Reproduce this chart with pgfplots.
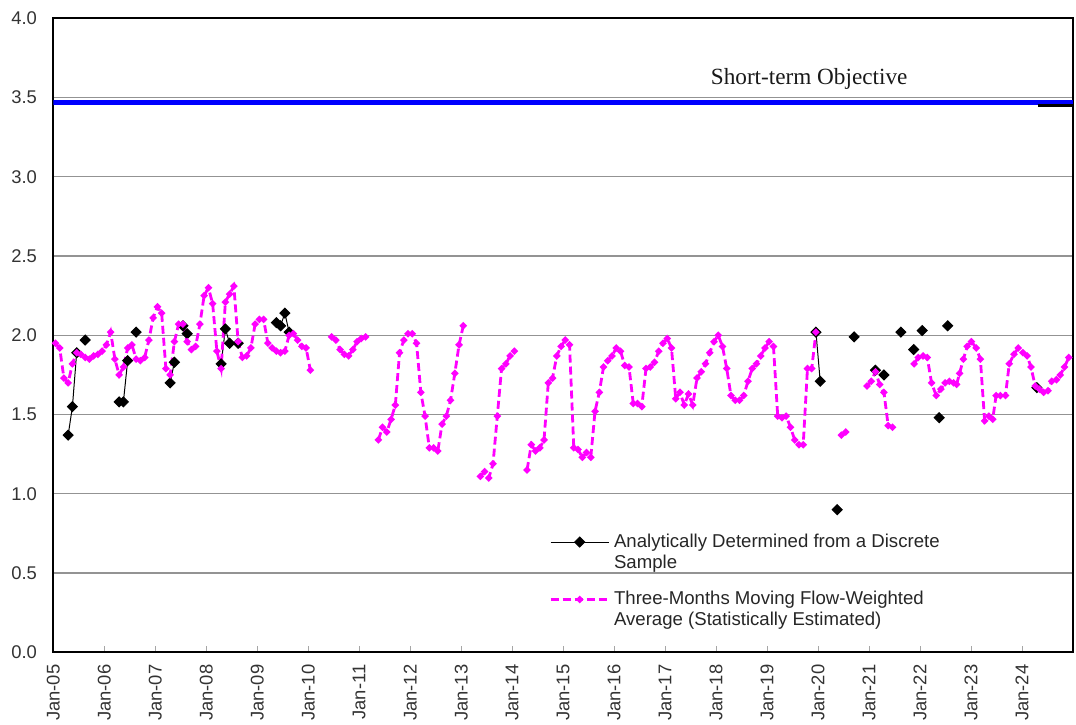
\documentclass[border=0pt]{standalone}
\usepackage{fontspec}
\setmainfont{Liberation Sans}
\newfontfamily\timesfont{Liberation Serif}
\usepackage{pgfplots}
\pgfplotsset{compat=1.18}
\definecolor{mag}{RGB}{255,0,255}
\definecolor{objblue}{RGB}{0,0,255}
% legend sample sits on the first text line
\pgfplotsset{long legend/.style={legend image code/.code={%
  \draw[mark repeat=2,mark phase=2,##1] plot coordinates {(0pt,5.2pt) (14.5pt,5.2pt) (29pt,5.2pt)};}}}

\begin{document}
\begin{tikzpicture}
\path[use as bounding box] (0,0) rectangle (538pt,362pt);
\begin{axis}[
  at={(26.65pt,35.85pt)}, anchor=south west,
  scale only axis, width=509.85pt, height=317pt,
  xmin=0, xmax=240, ymin=0, ymax=4,
  xtick={0,12,...,228},
  xticklabels={Jan-05,Jan-06,Jan-07,Jan-08,Jan-09,Jan-10,Jan-11,Jan-12,Jan-13,Jan-14,
               Jan-15,Jan-16,Jan-17,Jan-18,Jan-19,Jan-20,Jan-21,Jan-22,Jan-23,Jan-24},
  ytick={0,0.5,...,4},
  yticklabel style={/pgf/number format/fixed, /pgf/number format/fixed zerofill,
    /pgf/number format/precision=1, /pgf/number format/assume math mode=true,
    inner sep=0pt, xshift=-8pt},
  tick label style={font=\fontsize{9.2}{11}\selectfont, text=black!80},
  x tick label style={rotate=90, anchor=east, inner sep=0pt},
  xticklabel shift=6pt,
  xtick pos=bottom, tick align=inside, major tick length=3pt,
  xtick style={draw=gray!70, line width=0.5pt},
  ytick style={draw=none},
  ymajorgrids, grid style={draw=gray!85, line width=0.6pt},
  axis line style={line width=1pt},
  unbounded coords=jump,
  legend style={at={(0.486,0.194)}, anchor=north west, draw=none, fill=none,
    inner sep=0pt, row sep=6pt, font=\fontsize{9.3}{10.5}\selectfont,
    cells={anchor=west, align=left, text=black!85}},
  legend cell align=left,
]
% short-term objective
\addplot[objblue, line width=2.7pt, forget plot] coordinates {(0,3.47) (240,3.47)};
\addplot[black, line width=1.5pt, forget plot] coordinates {(231.7,3.45) (240,3.45)};

% discrete samples
\addplot[black, line width=0.5pt, mark=square*, mark size=1.75pt,
  mark options={rotate=45}, long legend]
coordinates {
 (3.5,1.37) (4.5,1.55) (5.5,1.89) (6,nan)
 (7.5,1.97) (8,nan)
 (15.5,1.58) (16.5,1.58) (17.5,1.84) (18,nan)
 (19.5,2.02) (20,nan)
 (27.5,1.70) (28.5,1.83) (29,nan)
 (30.5,2.06) (31.5,2.01) (32,nan)
 (39.5,1.82) (40.5,2.04) (41.5,1.95) (42,nan)
 (43.5,1.95) (44,nan)
 (52.5,2.08) (53.5,2.06) (54.5,2.14) (55.5,2.02) (56,nan)
 (179.5,2.02) (180.5,1.71) (181,nan)
 (184.5,0.90) (185,nan)
 (188.5,1.99) (189,nan)
 (193.5,1.78) (194,nan)
 (195.5,1.75) (196,nan)
 (199.5,2.02) (200,nan)
 (202.5,1.91) (203,nan)
 (204.5,2.03) (205,nan)
 (208.5,1.48) (209,nan)
 (210.5,2.06) (211,nan)
 (231.5,1.67)
};
\addlegendentry{Analytically Determined from a Discrete\\Sample}

% three-month moving average
\addplot[mag, line width=1.4pt, dash pattern=on 4pt off 2pt, mark=*, mark size=0.95pt,
  mark options={solid}, long legend]
coordinates {
 (0.5,1.95) (1.5,1.92) (2.5,1.73) (3.5,1.70) (4.5,1.82) (5.5,1.89) (6.5,1.88) (7.5,1.86)
 (8.5,1.85) (9.5,1.87) (10.5,1.88) (11.5,1.90) (12.5,1.94) (13.5,2.02) (14.5,1.85) (15.5,1.75)
 (16.5,1.80) (17.5,1.92) (18.5,1.94) (19.5,1.85) (20.5,1.84) (21.5,1.86) (22.5,1.97) (23.5,2.11)
 (24.5,2.18) (25.5,2.14) (26.5,1.79) (27.5,1.75) (28.5,1.96) (29.5,2.07) (30.5,2.07) (31.5,1.96)
 (32.5,1.91) (33.5,1.93) (34.5,2.07) (35.5,2.25) (36.5,2.30) (37.5,2.20) (38.5,1.90) (39.5,1.79)
 (40.5,2.21) (41.5,2.26) (42.5,2.31) (43.5,1.96) (44.5,1.86) (45.5,1.87) (46.5,1.92) (47.5,2.07)
 (48.5,2.10) (49.5,2.10) (50.5,1.95) (51.5,1.92) (52.5,1.90) (53.5,1.89) (54.5,1.90) (55.5,2.00)
 (56.5,2.01) (57.5,1.97) (58.5,1.93) (59.5,1.92) (60.5,1.78) (61,nan)
 (65.5,1.99) (66.5,1.97) (67.5,1.91) (68.5,1.88) (69.5,1.87) (70.5,1.91) (71.5,1.96) (72.5,1.98)
 (73.5,1.99) (74,nan)
 (76.5,1.34) (77.5,1.42) (78.5,1.39) (79.5,1.47) (80.5,1.56) (81.5,1.89) (82.5,1.97) (83.5,2.01)
 (84.5,2.01) (85.5,1.95) (86.5,1.64) (87.5,1.49) (88.5,1.29) (89.5,1.29) (90.5,1.27) (91.5,1.44)
 (92.5,1.49) (93.5,1.59) (94.5,1.76) (95.5,1.94) (96.5,2.06) (97,nan)
 (100.5,1.11) (101.5,1.14) (102.5,1.10) (103.5,1.19) (104.5,1.49) (105.5,1.79) (106.5,1.82)
 (107.5,1.87) (108.5,1.90) (109,nan)
 (111.5,1.15) (112.5,1.31) (113.5,1.27) (114.5,1.29) (115.5,1.34) (116.5,1.70) (117.5,1.73)
 (118.5,1.87) (119.5,1.93) (120.5,1.97) (121.5,1.94) (122.5,1.29) (123.5,1.28) (124.5,1.23)
 (125.5,1.26) (126.5,1.23) (127.5,1.52) (128.5,1.64) (129.5,1.80) (130.5,1.84) (131.5,1.87)
 (132.5,1.92) (133.5,1.90) (134.5,1.81) (135.5,1.80) (136.5,1.57) (137.5,1.57) (138.5,1.55)
 (139.5,1.79) (140.5,1.80) (141.5,1.83) (142.5,1.90) (143.5,1.95) (144.5,1.98) (145.5,1.92)
 (146.5,1.60) (147.5,1.64) (148.5,1.56) (149.5,1.63) (150.5,1.56) (151.5,1.73) (152.5,1.77)
 (153.5,1.82) (154.5,1.89) (155.5,1.96) (156.5,2.00) (157.5,1.93) (158.5,1.79) (159.5,1.62)
 (160.5,1.59) (161.5,1.59) (162.5,1.62) (163.5,1.71) (164.5,1.79) (165.5,1.82) (166.5,1.87)
 (167.5,1.92) (168.5,1.96) (169.5,1.93) (170.5,1.49) (171.5,1.48) (172.5,1.49) (173.5,1.42)
 (174.5,1.34) (175.5,1.31) (176.5,1.31) (177.5,1.79) (178.5,1.79) (179.5,2.02) (180,nan)
 (185.5,1.37) (186.5,1.39) (187,nan)
 (191.5,1.68) (192.5,1.71) (193.5,1.77) (194.5,1.69) (195.5,1.64) (196.5,1.43) (197.5,1.42) (198,nan)
 (202.6,1.82) (203.6,1.86) (204.7,1.87) (205.7,1.86) (206.7,1.70) (207.8,1.62) (208.9,1.66)
 (209.9,1.70) (210.9,1.71) (211.9,1.70) (212.6,1.69) (213.3,1.76) (214.2,1.85) (215.1,1.93)
 (216.1,1.96) (217.2,1.92) (218.2,1.85) (219.2,1.46) (220.2,1.49) (221.1,1.47) (221.9,1.62)
 (222.9,1.62) (224.1,1.62) (225.0,1.82) (226.1,1.88) (227.1,1.92) (228.2,1.89) (229.2,1.87)
 (230.1,1.80) (231.1,1.68) (232.1,1.66) (233.1,1.64) (234.1,1.65) (235.0,1.71) (236.1,1.72)
 (237.0,1.75) (238.0,1.80) (239.0,1.86)
};
\addlegendentry{Three-Months Moving Flow-Weighted\\Average (Statistically Estimated)}

\node[font=\timesfont\fontsize{11.6}{14}\selectfont, anchor=base, text=black!90]
  at (axis cs:177.9,3.585) {Short-term Objective};
\end{axis}
\end{tikzpicture}
\end{document}
